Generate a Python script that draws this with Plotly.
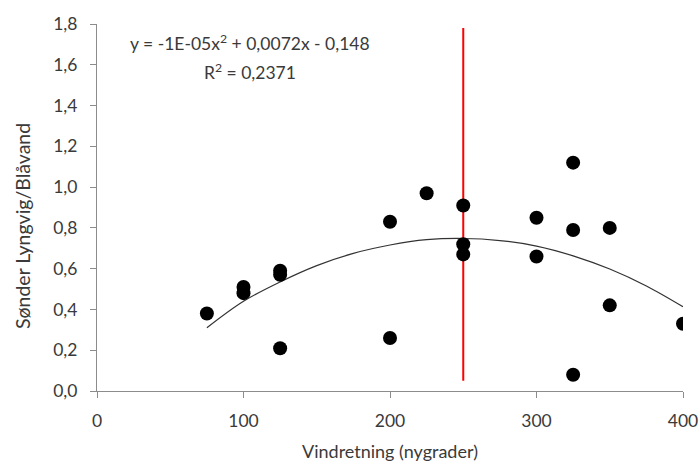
import plotly.graph_objects as go

# Observations
wind_dir = [75, 100, 100, 125, 125, 125, 200, 200, 225, 250, 250, 250,
            300, 300, 325, 325, 325, 350, 350, 400]
ratio = [0.38, 0.51, 0.48, 0.59, 0.57, 0.21, 0.83, 0.26, 0.97, 0.91, 0.72, 0.67,
         0.85, 0.66, 1.12, 0.79, 0.08, 0.80, 0.42, 0.33]

# Polynomial trendline
trend_x = [75, 100, 125, 150, 175, 200, 225, 250, 275, 300, 325, 350, 375, 400]
trend_y = [0.31, 0.44, 0.535, 0.615, 0.675, 0.716, 0.742, 0.748, 0.738, 0.711,
           0.663, 0.598, 0.515, 0.413]

# Vertical reference line
ref_x = [250, 250]
ref_y = [0.05, 1.78]

x_ticks = [0, 100, 200, 300, 400]
y_ticks = [0.0, 0.2, 0.4, 0.6, 0.8, 1.0, 1.2, 1.4, 1.6, 1.8]
y_tick_text = ["0,0", "0,2", "0,4", "0,6", "0,8", "1,0", "1,2", "1,4", "1,6", "1,8"]

FONT = "Lato, 'Open Sans', sans-serif"
TXT = "#3a3a3a"
AX = "#8c8c8c"

L, R, T, B = 97, 16, 24, 75
W, H = 699, 466
PW, PH = W - L - R, H - T - B

fig = go.Figure()
fig.add_trace(go.Scatter(x=ref_x, y=ref_y, mode="lines",
                         line=dict(color="#ff0000", width=2), hoverinfo="skip"))
fig.add_trace(go.Scatter(x=trend_x, y=trend_y, mode="lines",
                         line=dict(color="#333333", width=1.2, shape="spline"),
                         hoverinfo="skip"))
fig.add_trace(go.Scatter(x=wind_dir, y=ratio, mode="markers",
                         marker=dict(color="black", size=14)))

fig.update_layout(
    width=W, height=H,
    margin=dict(l=L, r=R, t=T, b=B),
    paper_bgcolor="white", plot_bgcolor="white",
    showlegend=False,
    font=dict(family=FONT, color=TXT, size=17.5),
    xaxis=dict(range=[0, 400], tickvals=x_ticks, ticktext=[str(v) for v in x_ticks],
               showgrid=False, zeroline=False, showline=True, linecolor=AX,
               linewidth=1, ticks="outside", ticklen=6, tickcolor=AX,
               ticklabelstandoff=8, automargin=False),
    yaxis=dict(range=[0, 1.8], tickvals=y_ticks, ticktext=y_tick_text,
               showgrid=False, zeroline=False, showline=True, linecolor=AX,
               linewidth=1, ticks="outside", ticklen=6, tickcolor=AX,
               ticklabelstandoff=9, automargin=False),
    annotations=[
        dict(text="y = -1E-05x<sup>2</sup> + 0,0072x - 0,148", x=104.4, y=1.707,
             xref="x", yref="y", showarrow=False, font=dict(size=17.5)),
        dict(text="R<sup>2</sup> = 0,2371", x=104.4, y=1.565, xref="x", yref="y",
             showarrow=False, font=dict(size=17.5)),
        dict(text="Sønder Lyngvig/Blåvand",
             x=(22 - L) / PW, y=(H - B - 226) / PH,
             xref="paper", yref="paper", xanchor="center", yanchor="middle",
             showarrow=False, textangle=-90, font=dict(size=19.5)),
        dict(text="Vindretning (nygrader)",
             x=0.5, y=-(451 - (H - B)) / PH,
             xref="paper", yref="paper", xanchor="center", yanchor="middle",
             showarrow=False, font=dict(size=18)),
    ],
)

fig.write_html("out.html")
